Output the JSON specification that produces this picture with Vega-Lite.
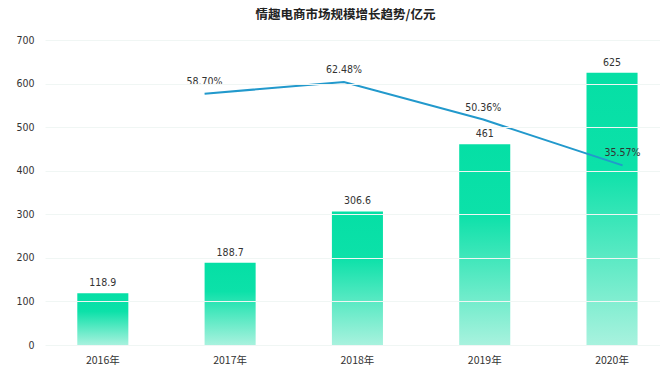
{
  "$schema": "https://vega.github.io/schema/vega-lite/v6.json",
  "autosize": "none",
  "width": 615,
  "height": 305,
  "padding": {"left": 45, "top": 40, "right": 0, "bottom": 29},
  "background": "white",
  "title": {
    "text": "情趣电商市场规模增长趋势/亿元",
    "font": "Noto Sans CJK SC",
    "fontSize": 12.5,
    "fontWeight": "bold",
    "color": "#222222",
    "anchor": "middle",
    "frame": "group",
    "dx": -7,
    "offset": 14
  },
  "config": {
    "view": {"stroke": null},
    "text": {"font": "DejaVu Sans Condensed, Liberation Sans, sans-serif"}
  },
  "data": {
    "values": [
      {"year": "2016年", "scale": 118.9, "growth": null},
      {"year": "2017年", "scale": 188.7, "growth": 0.5870},
      {"year": "2018年", "scale": 306.6, "growth": 0.6248},
      {"year": "2019年", "scale": 461, "growth": 0.5036},
      {"year": "2020年", "scale": 625, "growth": 0.3557}
    ]
  },
  "layer": [
    {
      "encoding": {
        "x": {
          "field": "year",
          "type": "nominal",
          "sort": null,
          "scale": {"paddingInner": 0.599, "paddingOuter": 0.215, "align": 0.59},
          "axis": {
            "title": null,
            "domain": false,
            "ticks": false,
            "labelAngle": 0,
            "labelPadding": 10,
            "labelFont": "Noto Sans CJK SC",
            "labelFontSize": 10.5,
            "labelColor": "#333333"
          }
        },
        "y": {
          "field": "scale",
          "type": "quantitative",
          "scale": {"domain": [0, 700], "nice": false},
          "axis": {
            "title": null,
            "domain": false,
            "ticks": false,
            "values": [0, 100, 200, 300, 400, 500, 600, 700],
            "labelPadding": 11,
            "labelFont": "DejaVu Sans Condensed, Liberation Sans, sans-serif",
            "labelFontSize": 10.5,
            "labelColor": "#333333",
            "grid": true,
            "gridColor": "#f0f6f4",
            "gridWidth": 1,
            "zindex": 1
          }
        }
      },
      "layer": [
        {
          "mark": {
            "type": "bar",
            "color": {
              "gradient": "linear",
              "x1": 0, "y1": 0, "x2": 0, "y2": 1,
              "stops": [
                {"offset": 0, "color": "#05dfa5"},
                {"offset": 0.35, "color": "#0ce1a9"},
                {"offset": 1, "color": "#a8f2de"}
              ]
            }
          }
        },
        {
          "mark": {"type": "text", "baseline": "bottom", "dy": -5, "fontSize": 10.5, "color": "#333333"},
          "encoding": {"text": {"field": "scale", "type": "quantitative"}}
        }
      ]
    },
    {
      "transform": [{"filter": "datum.growth != null"}],
      "encoding": {
        "x": {
          "field": "year",
          "type": "ordinal",
          "sort": null,
          "scale": {"type": "point", "padding": 0.707, "align": 0.81},
          "axis": null
        },
        "y": {
          "field": "growth",
          "type": "quantitative",
          "scale": {"domain": [-0.224, 0.7603], "nice": false, "zero": false},
          "axis": null
        }
      },
      "layer": [
        {"mark": {"type": "line", "color": "#2299cc", "strokeWidth": 2}},
        {
          "mark": {"type": "text", "baseline": "bottom", "dy": -7, "fontSize": 10.5, "color": "#333333"},
          "encoding": {"text": {"field": "growth", "type": "quantitative", "format": ".2%"}}
        }
      ]
    }
  ],
  "resolve": {"scale": {"x": "independent", "y": "independent"}, "axis": {"x": "independent", "y": "independent"}}
}
